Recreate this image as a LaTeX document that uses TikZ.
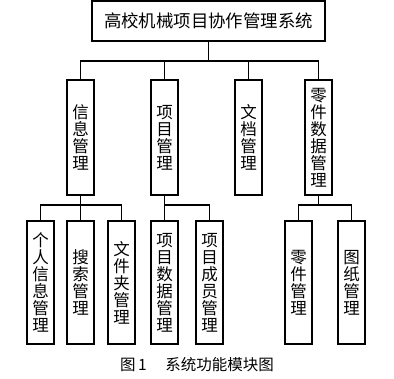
\documentclass[tikz,border=0pt]{standalone}
\usepackage{fontspec}
\newfontfamily\cjk{Noto Sans CJK SC}
\usetikzlibrary{positioning}

\tikzset{
  sysbox/.style={draw, line width=1.5pt, inner sep=0pt, minimum width=233, minimum height=40,
    font=\cjk\fontsize{17.4}{20}\selectfont},
  modbox/.style={draw, line width=1.5pt, inner sep=0pt, minimum width=27, minimum height=115,
    align=center, font=\cjk\fontsize{16.5}{17}\selectfont},
  subbox/.style={modbox, minimum height=123},
  conn/.style={line width=1.6pt}
}

\begin{document}
\begin{tikzpicture}[x=1pt,y=-1pt]
\useasboundingbox (0,0) rectangle (394,379);

% top
\node[sysbox] (sys) at (208.5,21) {高校机械项目协作管理系统};

% level 2
\node[modbox] (xinxi) at (80.5,137.5) {信\\息\\管\\理};
\node[modbox] (xiangmu) at (164.5,137.5) {项\\目\\管\\理};
\node[modbox] (wendang) at (248.5,137.5) {文\\档\\管\\理};
\node[modbox] (lingjian) at (318.5,137.5) {零\\件\\数\\据\\管\\理};

% level 3
\node[subbox] (geren) at (40.5,282.5) {个\\人\\信\\息\\管\\理};
\node[subbox] (sousuo) at (80.5,282.5) {搜\\索\\管\\理};
\node[subbox] (wenjianjia) at (121.5,282.5) {文\\件\\夹\\管\\理};
\node[subbox] (xmshuju) at (164.5,282.5) {项\\目\\数\\据\\管\\理};
\node[subbox] (xmchengyuan) at (209.5,282.5) {项\\目\\成\\员\\管\\理};
\node[subbox] (ljguanli) at (298.5,282.5) {零\\件\\管\\理};
\node[subbox] (tuzhi) at (351.5,282.5) {图\\纸\\管\\理};

% connectors
\foreach \m in {xinxi,xiangmu,wendang,lingjian}{
  \draw[conn] (sys.south) -- ++(0,19) -| (\m.north);
}
\foreach \s in {geren,sousuo,wenjianjia}{
  \draw[conn] (xinxi.south) -- ++(0,9) -| (\s.north);
}
\foreach \s in {xmshuju,xmchengyuan}{
  \draw[conn] (xiangmu.south) -- ++(0,9) -| (\s.north);
}
\foreach \s in {ljguanli,tuzhi}{
  \draw[conn] (lingjian.south) -- ++(0,9) -| (\s.north);
}

% caption
\node[font=\cjk\fontsize{15.5}{18}\selectfont] (caption) at (197,365) {图\,1\hspace{1.2em}系统功能模块图};

\end{tikzpicture}
\end{document}
